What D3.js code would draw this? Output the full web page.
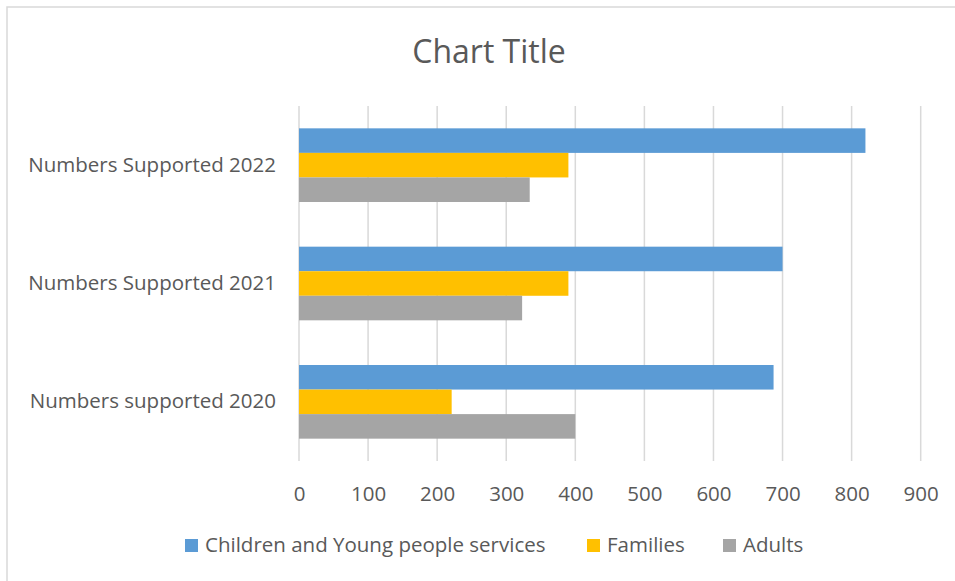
<!DOCTYPE html>
<html lang="en">
<head>
    <title>Numbers Supported</title>
    <script src='https://d3js.org/d3.v7.min.js'></script>
    <style>
        body { margin: 0; background: #fff; }
        text { font-family: "Open Sans", "Liberation Sans", sans-serif; fill: #595959; }
    </style>
</head>
<body>
    <script>
        var width = 955, height = 581;

        // data
        var categories = ["Numbers Supported 2022", "Numbers Supported 2021", "Numbers supported 2020"];
        var seriesNames = ["Children and Young people services", "Families", "Adults"];
        var seriesColors = ["#5b9bd5", "#ffc000", "#a5a5a5"];
        var children = [820, 700, 687];
        var families = [390, 390, 221];
        var adults = [334, 323, 400];
        var xTicks = [0, 100, 200, 300, 400, 500, 600, 700, 800, 900];

        var seriesValues = [children, families, adults];

        var svg = d3.select('body')
            .append('svg')
            .attr('width', width)
            .attr('height', height);

        // chart border (right and bottom edges fall outside the picture)
        svg.append('rect')
            .attr('x', 7).attr('y', 7)
            .attr('width', 980).attr('height', 600)
            .attr('fill', 'none')
            .attr('stroke', '#d9d9d9')
            .attr('stroke-width', 1.5);

        svg.append('text')
            .attr('x', 489).attr('y', 63)
            .attr('text-anchor', 'middle')
            .style('font-size', '32px')
            .text('Chart Title');

        var x = d3.scaleLinear().domain([0, 900]).range([299, 920.7]);
        var y = d3.scaleBand().domain(categories).range([106, 461]);
        var inner = d3.scaleBand().domain(seriesNames)
            .range([0, y.bandwidth()])
            .paddingOuter(0.91);

        // gridlines
        svg.append('g')
            .selectAll('line')
            .data(xTicks)
            .join('line')
            .attr('x1', function(d) { return x(d); })
            .attr('x2', function(d) { return x(d); })
            .attr('y1', 106).attr('y2', 461)
            .attr('stroke', '#d9d9d9')
            .attr('stroke-width', 1.5);

        // bars
        var groups = svg.append('g')
            .selectAll('g')
            .data(seriesNames)
            .join('g')
            .attr('fill', function(d, i) { return seriesColors[i]; });

        groups.selectAll('rect')
            .data(function(s, si) {
                return categories.map(function(c, ci) {
                    return { cat: c, series: s, value: seriesValues[si][ci] };
                });
            })
            .join('rect')
            .attr('x', x(0))
            .attr('y', function(d) { return y(d.cat) + inner(d.series); })
            .attr('width', function(d) { return x(d.value) - x(0); })
            .attr('height', inner.bandwidth());

        // x axis labels
        var xAxis = d3.axisBottom(x).tickValues(xTicks).tickSize(0).tickPadding(0);
        var gx = svg.append('g')
            .attr('transform', 'translate(0,501)')
            .call(xAxis);
        gx.select('.domain').remove();
        gx.selectAll('text')
            .attr('dy', 0)
            .style('font-size', '20.5px')
            .style('fill', '#595959')
            .style('font-family', '"Open Sans", sans-serif');

        // y axis labels
        var yAxis = d3.axisLeft(y).tickSize(0).tickPadding(0);
        var gy = svg.append('g')
            .attr('transform', 'translate(276,0)')
            .call(yAxis);
        gy.select('.domain').remove();
        gy.selectAll('text')
            .style('font-size', '20.5px')
            .style('fill', '#595959')
            .style('font-family', '"Open Sans", sans-serif');

        // legend
        var legendX = [185, 587, 723];
        var legend = svg.append('g')
            .selectAll('g')
            .data(seriesNames)
            .join('g')
            .attr('transform', function(d, i) { return 'translate(' + legendX[i] + ',539)'; });
        legend.append('rect')
            .attr('width', 13).attr('height', 13)
            .attr('fill', function(d, i) { return seriesColors[i]; });
        legend.append('text')
            .attr('x', 20).attr('y', 13)
            .style('font-size', '20.5px')
            .text(function(d) { return d; });
    </script>
</body>
</html>
